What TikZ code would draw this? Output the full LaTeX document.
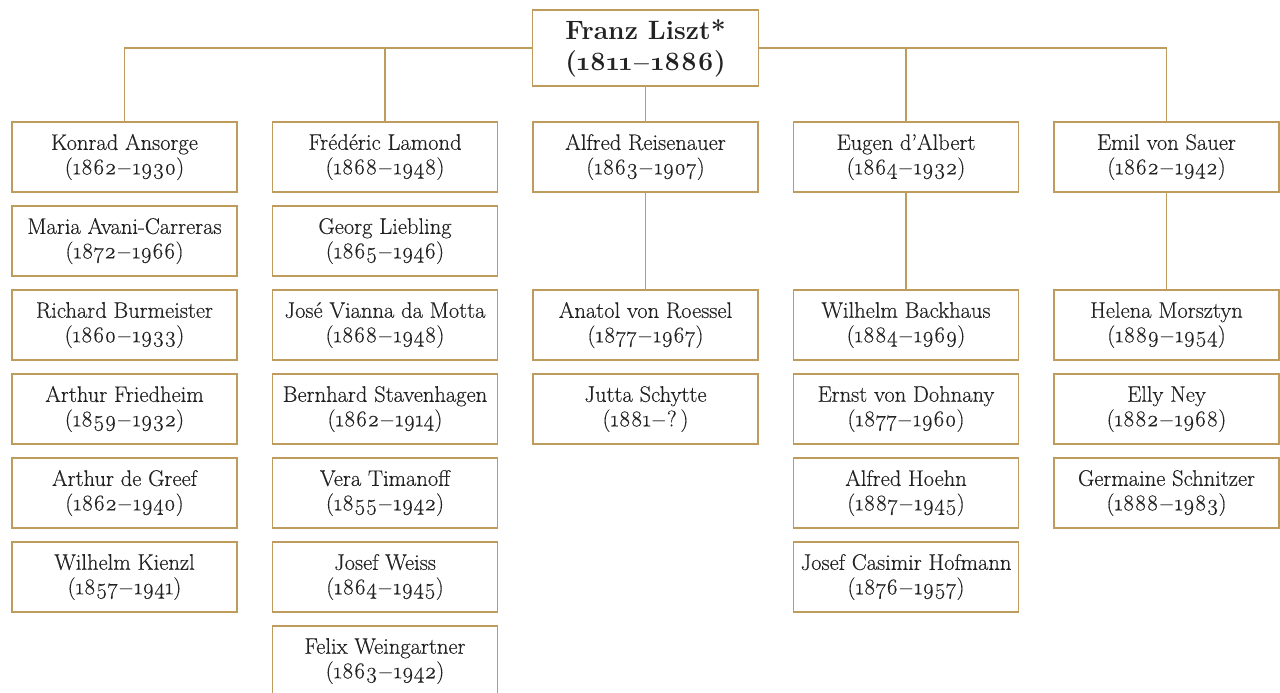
\documentclass[tikz,border=0pt]{standalone}
\usepackage{fontspec}
\setmainfont{Latin Modern Roman}[Numbers=OldStyle, UprightFeatures={FakeBold=0.35}]
\definecolor{rule}{RGB}{190,156,94}
\definecolor{ink}{RGB}{34,34,34}
\begin{document}
\begin{tikzpicture}[x=1pt,y=-1pt,
  pupil/.style={draw=rule, line width=1.4pt, fill=white, text=ink,
    minimum width=225pt, minimum height=70pt, inner sep=0pt, align=center,
    font=\fontsize{22.5}{24.5}\selectfont},
  master/.style={pupil, minimum width=226pt, minimum height=76pt,
    font=\fontsize{26.5}{31}\selectfont\bfseries},
  link/.style={draw=rule, line width=1.4pt}]
\useasboundingbox (0,0) rectangle (1280,693);
\newcommand{\yrs}[2]{(#1$-$#2)}
% teacher
\node[master] (liszt) at (645.5,48) {Franz Liszt*\\\yrs{1811}{1886}};
% first column
\node[pupil] (a1) at (124.5,157) {Konrad Ansorge\\\yrs{1862}{1930}};
\node[pupil] (a2) at (124.5,241) {Maria Avani-Carreras\\\yrs{1872}{1966}};
\node[pupil] (a3) at (124.5,325) {Richard Burmeister\\\yrs{1860}{1933}};
\node[pupil] (a4) at (124.5,409) {Arthur Friedheim\\\yrs{1859}{1932}};
\node[pupil] (a5) at (124.5,493) {Arthur de Greef\\\yrs{1862}{1940}};
\node[pupil] (a6) at (124.5,577) {Wilhelm Kienzl\\\yrs{1857}{1941}};
% second column
\node[pupil] (b1) at (385,157) {Frédéric Lamond\\\yrs{1868}{1948}};
\node[pupil] (b2) at (385,241) {Georg Liebling\\\yrs{1865}{1946}};
\node[pupil] (b3) at (385,325) {José Vianna da Motta\\\yrs{1868}{1948}};
\node[pupil] (b4) at (385,409) {Bernhard Stavenhagen\\\yrs{1862}{1914}};
\node[pupil] (b5) at (385,493) {Vera Timanoff\\\yrs{1855}{1942}};
\node[pupil] (b6) at (385,577) {Josef Weiss\\\yrs{1864}{1945}};
\node[pupil] (b7) at (385,661) {Felix Weingartner\\\yrs{1863}{1942}};
% third column
\node[pupil] (c1) at (645.5,157) {Alfred Reisenauer\\\yrs{1863}{1907}};
\node[pupil] (c3) at (645.5,325) {Anatol von Roessel\\\yrs{1877}{1967}};
\node[pupil] (c4) at (645.5,409) {Jutta Schytte\\(1881$-$?\,)};
% fourth column
\node[pupil] (d1) at (906,157) {Eugen d’Albert\\\yrs{1864}{1932}};
\node[pupil] (d3) at (906,325) {Wilhelm Backhaus\\\yrs{1884}{1969}};
\node[pupil] (d4) at (906,409) {Ernst von Dohnany\\\yrs{1877}{1960}};
\node[pupil] (d5) at (906,493) {Alfred Hoehn\\\yrs{1887}{1945}};
\node[pupil] (d6) at (906,577) {Josef Casimir Hofmann\\\yrs{1876}{1957}};
% fifth column
\node[pupil] (e1) at (1166.5,157) {Emil von Sauer\\\yrs{1862}{1942}};
\node[pupil] (e3) at (1166.5,325) {Helena Morsztyn\\\yrs{1889}{1954}};
\node[pupil] (e4) at (1166.5,409) {Elly Ney\\\yrs{1882}{1968}};
\node[pupil] (e5) at (1166.5,493) {Germaine Schnitzer\\\yrs{1888}{1983}};
% connectors
\path[link] (liszt.west) -| (a1.north);
\path[link] (liszt.west) -| (b1.north);
\path[link] (liszt.east) -| (d1.north);
\path[link] (liszt.east) -| (e1.north);
\path[link] (liszt.south) -- (c1.north);
\path[link] (c1.south) -- (c3.north);
\path[link] (d1.south) -- (d3.north);
\path[link] (e1.south) -- (e3.north);
\end{tikzpicture}
\end{document}
